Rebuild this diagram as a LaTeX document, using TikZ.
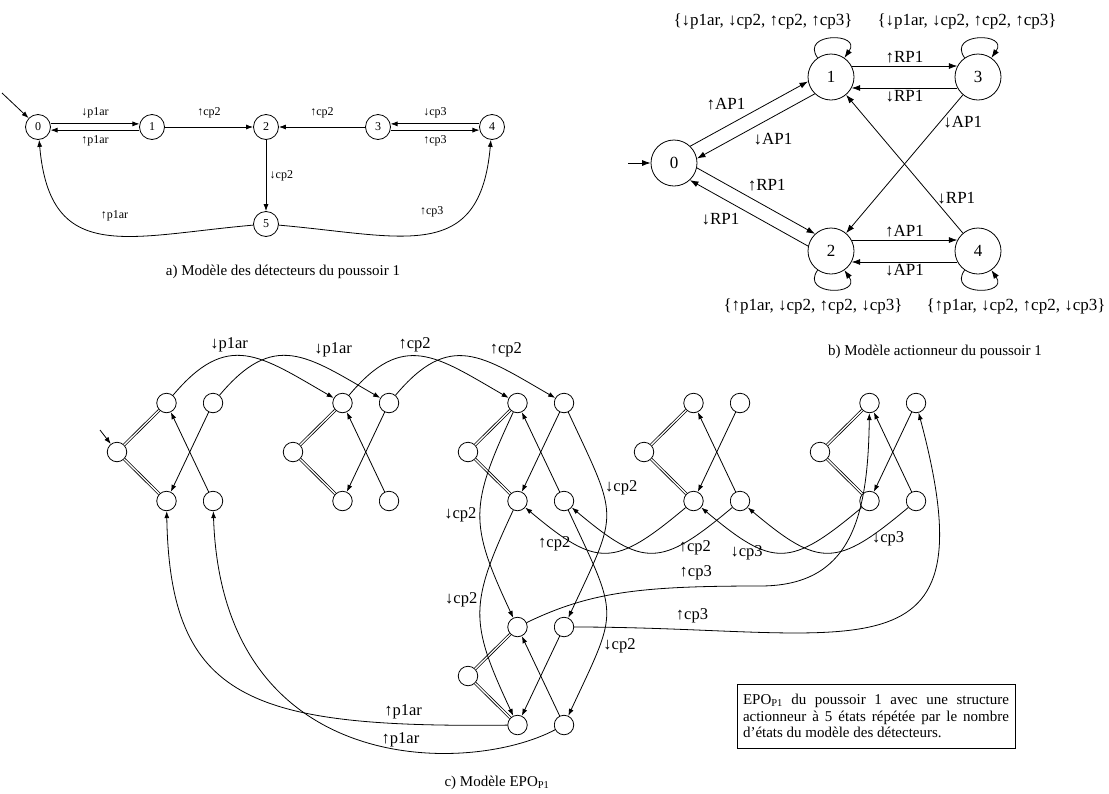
\documentclass[tikz,border=0pt]{standalone}
\usepackage{fontspec}
\setmainfont{Liberation Serif}
\usetikzlibrary{arrows.meta}

\newcommand{\nohyph}{\hyphenpenalty=10000\exhyphenpenalty=10000\relax}

% one copy of the 5-state actuator structure
\newcommand{\actmodule}[3]{%
  \node[cst] (#1l) at (#2,#3) {};
  \node[cst] (#1tl) at ({#2+49.5},{#3-49}) {};
  \node[cst] (#1tr) at ({#2+96},{#3-49}) {};
  \node[cst] (#1bl) at ({#2+49.5},{#3+49}) {};
  \node[cst] (#1br) at ({#2+96},{#3+49}) {};
  \draw[dbl] (#1l) -- (#1tl);
  \draw[dbl] (#1l) -- (#1bl);
  \draw[dbl] (#1tl) -- (#1tr);
  \draw[dbl] (#1bl) -- (#1br);
  \draw[->] (#1tr) -- (#1bl);
  \draw[->] (#1br) -- (#1tl);
}

\begin{document}
\begin{tikzpicture}[x=1pt, y=-1pt, line width=0.8pt,
    >={Latex[length=7pt,width=5pt]},
    font=\fontsize{16.5}{19}\selectfont,
    capt/.style={font=\fontsize{15}{18}\selectfont},
    ast/.style={draw, circle, minimum size=25pt, inner sep=0pt},
    bst/.style={draw, circle, minimum size=46pt, inner sep=0pt},
    cst/.style={draw, circle, minimum size=19.5pt, inner sep=0pt},
    dbl/.style={double, double distance=1.3pt},
    swoop/.style={out=-140, in=-40, looseness=1.5}]
    \useasboundingbox (0,0) rectangle (1109,793);

    % a) detectors
    \begin{scope}[font=\fontsize{12}{14}\selectfont]
    \node[ast] (a0) at (38,127) {0};
    \node[ast] (a1) at (152,127) {1};
    \node[ast] (a2) at (266,127) {2};
    \node[ast] (a3) at (378,127) {3};
    \node[ast] (a4) at (492,127) {4};
    \node[ast] (a5) at (266,224) {5};
    \coordinate (a0in) at (2,93);
    \draw[->] (a0in) -- (a0);
    \draw[->] (a0.14) -- node[above=2pt] {↓p1ar} (a1.166);
    \draw[->] (a1.194) -- node[below=2pt] {↑p1ar} (a0.-14);
    \draw[->] (a1) -- node[above=5pt] {↑cp2} (a2);
    \draw[->] (a3) -- node[above=5pt] {↑cp2} (a2);
    \draw[->] (a4.166) -- node[above=2pt] {↓cp3} (a3.14);
    \draw[->] (a3.-14) -- node[below=2pt] {↑cp3} (a4.194);
    \draw[->] (a2) -- node[right] {↓cp2} (a5);
    \draw[->] (a5) to[out=185, in=-85, looseness=1.4] node[pos=0.45, above=11pt] {↑p1ar} (a0);
    \draw[->] (a5) to[out=-5, in=-95, looseness=1.4] node[pos=0.52, above=12pt] {↑cp3} (a4);
    \end{scope}
    \node[capt] (capa) at (283,272) {a) Modèle des détecteurs du poussoir 1};

    % b) actuator
    \begin{scope}[>={Latex[length=8.5pt,width=6pt]}, font=\fontsize{17}{20}\selectfont]
    \node[bst] (b0) at (674,163) {0};
    \node[bst] (b1) at (831,77) {1};
    \node[bst] (b3) at (978,77) {3};
    \node[bst] (b2) at (831,251) {2};
    \node[bst] (b4) at (978,251) {4};
    \coordinate (b0in) at (628,163);
    \draw[->] (b0in) -- (b0);
    \draw[->] (b0.46) -- node[pos=0.5, above left=0pt] {↑AP1} (b1.191);
    \draw[->] (b1.226) -- node[pos=0.55, below right=0pt] {↓AP1} (b0.11);
    \draw[->] (b0.-12) -- node[pos=0.4, above right=0pt] {↑RP1} (b2.133);
    \draw[->] (b2.168) -- node[pos=0.55, below left=0pt] {↓RP1} (b0.-47);
    \draw[->] (b1.28) -- node[above=-1pt] {↑RP1} (b3.152);
    \draw[->] (b3.208) -- node[below=-1pt] {↓RP1} (b1.-28);
    \draw[->] (b2.28) -- node[above=-1pt] {↑AP1} (b4.152);
    \draw[->] (b4.208) -- node[below=-1pt] {↓AP1} (b2.-28);
    \draw[->] (b3) -- node[pos=0.2, right] {↓AP1} (b2);
    \draw[->] (b4) -- node[pos=0.25, right] {↓RP1} (b1);
    \draw[->] (b1) to[out=125, in=55, looseness=3] node[above=6pt, xshift=-68pt] {\{↓p1ar, ↓cp2, ↑cp2, ↑cp3\}} (b1);
    \draw[->] (b3) to[out=125, in=55, looseness=3] node[above=6pt, xshift=-11pt] {\{↓p1ar, ↓cp2, ↑cp2, ↑cp3\}} (b3);
    \draw[->] (b2) to[out=-125, in=-55, looseness=3] node[below=6pt, xshift=-18pt] {\{↑p1ar, ↓cp2, ↑cp2, ↓cp3\}} (b2);
    \draw[->] (b4) to[out=-125, in=-55, looseness=3] node[below=6pt, xshift=38pt] {\{↑p1ar, ↓cp2, ↑cp2, ↓cp3\}} (b4);
    \end{scope}
    \node[capt] (capb) at (935,352) {b) Modèle actionneur du poussoir 1};

    % c) EPO
    \actmodule{c0}{117}{452}
    \actmodule{c1}{293}{452}
    \actmodule{c2}{468}{452}
    \actmodule{c3}{644}{452}
    \actmodule{c4}{820}{452}
    \actmodule{c5}{468}{676}
    \coordinate (c0in) at (100,430);
    \draw[->] (c0in) -- (c0l);
    \draw[->] (c0tl) to[out=50, in=150, looseness=1.35] node[pos=0.38, above] {↓p1ar} (c1tl);
    \draw[->] (c0tr) to[out=50, in=150, looseness=1.35] node[pos=0.62, above right] {↓p1ar} (c1tr);
    \draw[->] (c1tl) to[out=50, in=150, looseness=1.35] node[pos=0.45, above] {↑cp2} (c2tl);
    \draw[->] (c1tr) to[out=50, in=150, looseness=1.35] node[pos=0.62, above right] {↑cp2} (c2tr);
    \draw[->] (c2tl) to[out=-115, in=115, looseness=1.3] node[pos=0.5, left] {↓cp2} (c5tl);
    \draw[->] (c2bl) to[out=-115, in=115, looseness=1.3] node[pos=0.42, left] {↓cp2} (c5bl);
    \draw[->] (c2tr) to[out=-65, in=65, looseness=1.5] node[pos=0.32, right] {↓cp2} (c5tr);
    \draw[->] (c2br) to[out=-65, in=65, looseness=1.5] node[pos=0.71, right] {↓cp2} (c5br);
    \draw[->] (c3bl) to[swoop] node[pos=0.85, below=2pt] {↑cp2} (c2bl);
    \draw[->] (c3br) to[swoop] node[pos=0.2, below] {↑cp2} (c2br);
    \draw[->] (c4bl) to[swoop] node[pos=0.75, below] {↓cp3} (c3bl);
    \draw[->] (c4br) to[swoop] node[pos=0.1, below=4pt] {↓cp3} (c3br);
    \draw[->] (c5tl) .. controls (590,592) and (640,586) .. (760,586) node[pos=0.8, above=3pt] {↑cp3}
        .. controls (850,586) and (868,520) .. (c4tl);
    \draw[->] (c5tr) to[out=0, in=-75, looseness=1.8] node[pos=0.15, above=3pt] {↑cp3} (c4tr);
    \draw[->] (c5bl) .. controls (250,728) and (170,700) .. node[pos=0.15, above=1pt] {↑p1ar} (c0bl);
    \draw[->] (c5br) .. controls (470,775) and (222,780) .. node[pos=0.4, above=-1pt] {↑p1ar} (c0br);
    \node[capt] (capc) at (497,783) {c) Modèle EPO\textsubscript{P1}};

    \node[draw, line width=0.6pt, text width=266pt, align=justify, inner xsep=6pt, inner ysep=10pt,
        font=\fontsize{15}{16.5}\selectfont\nohyph] (note) at (876,716)
        {EPO\textsubscript{P1} du poussoir 1 avec une structure actionneur à 5 états répétée par le nombre d’états du modèle des détecteurs.};
\end{tikzpicture}
\end{document}
